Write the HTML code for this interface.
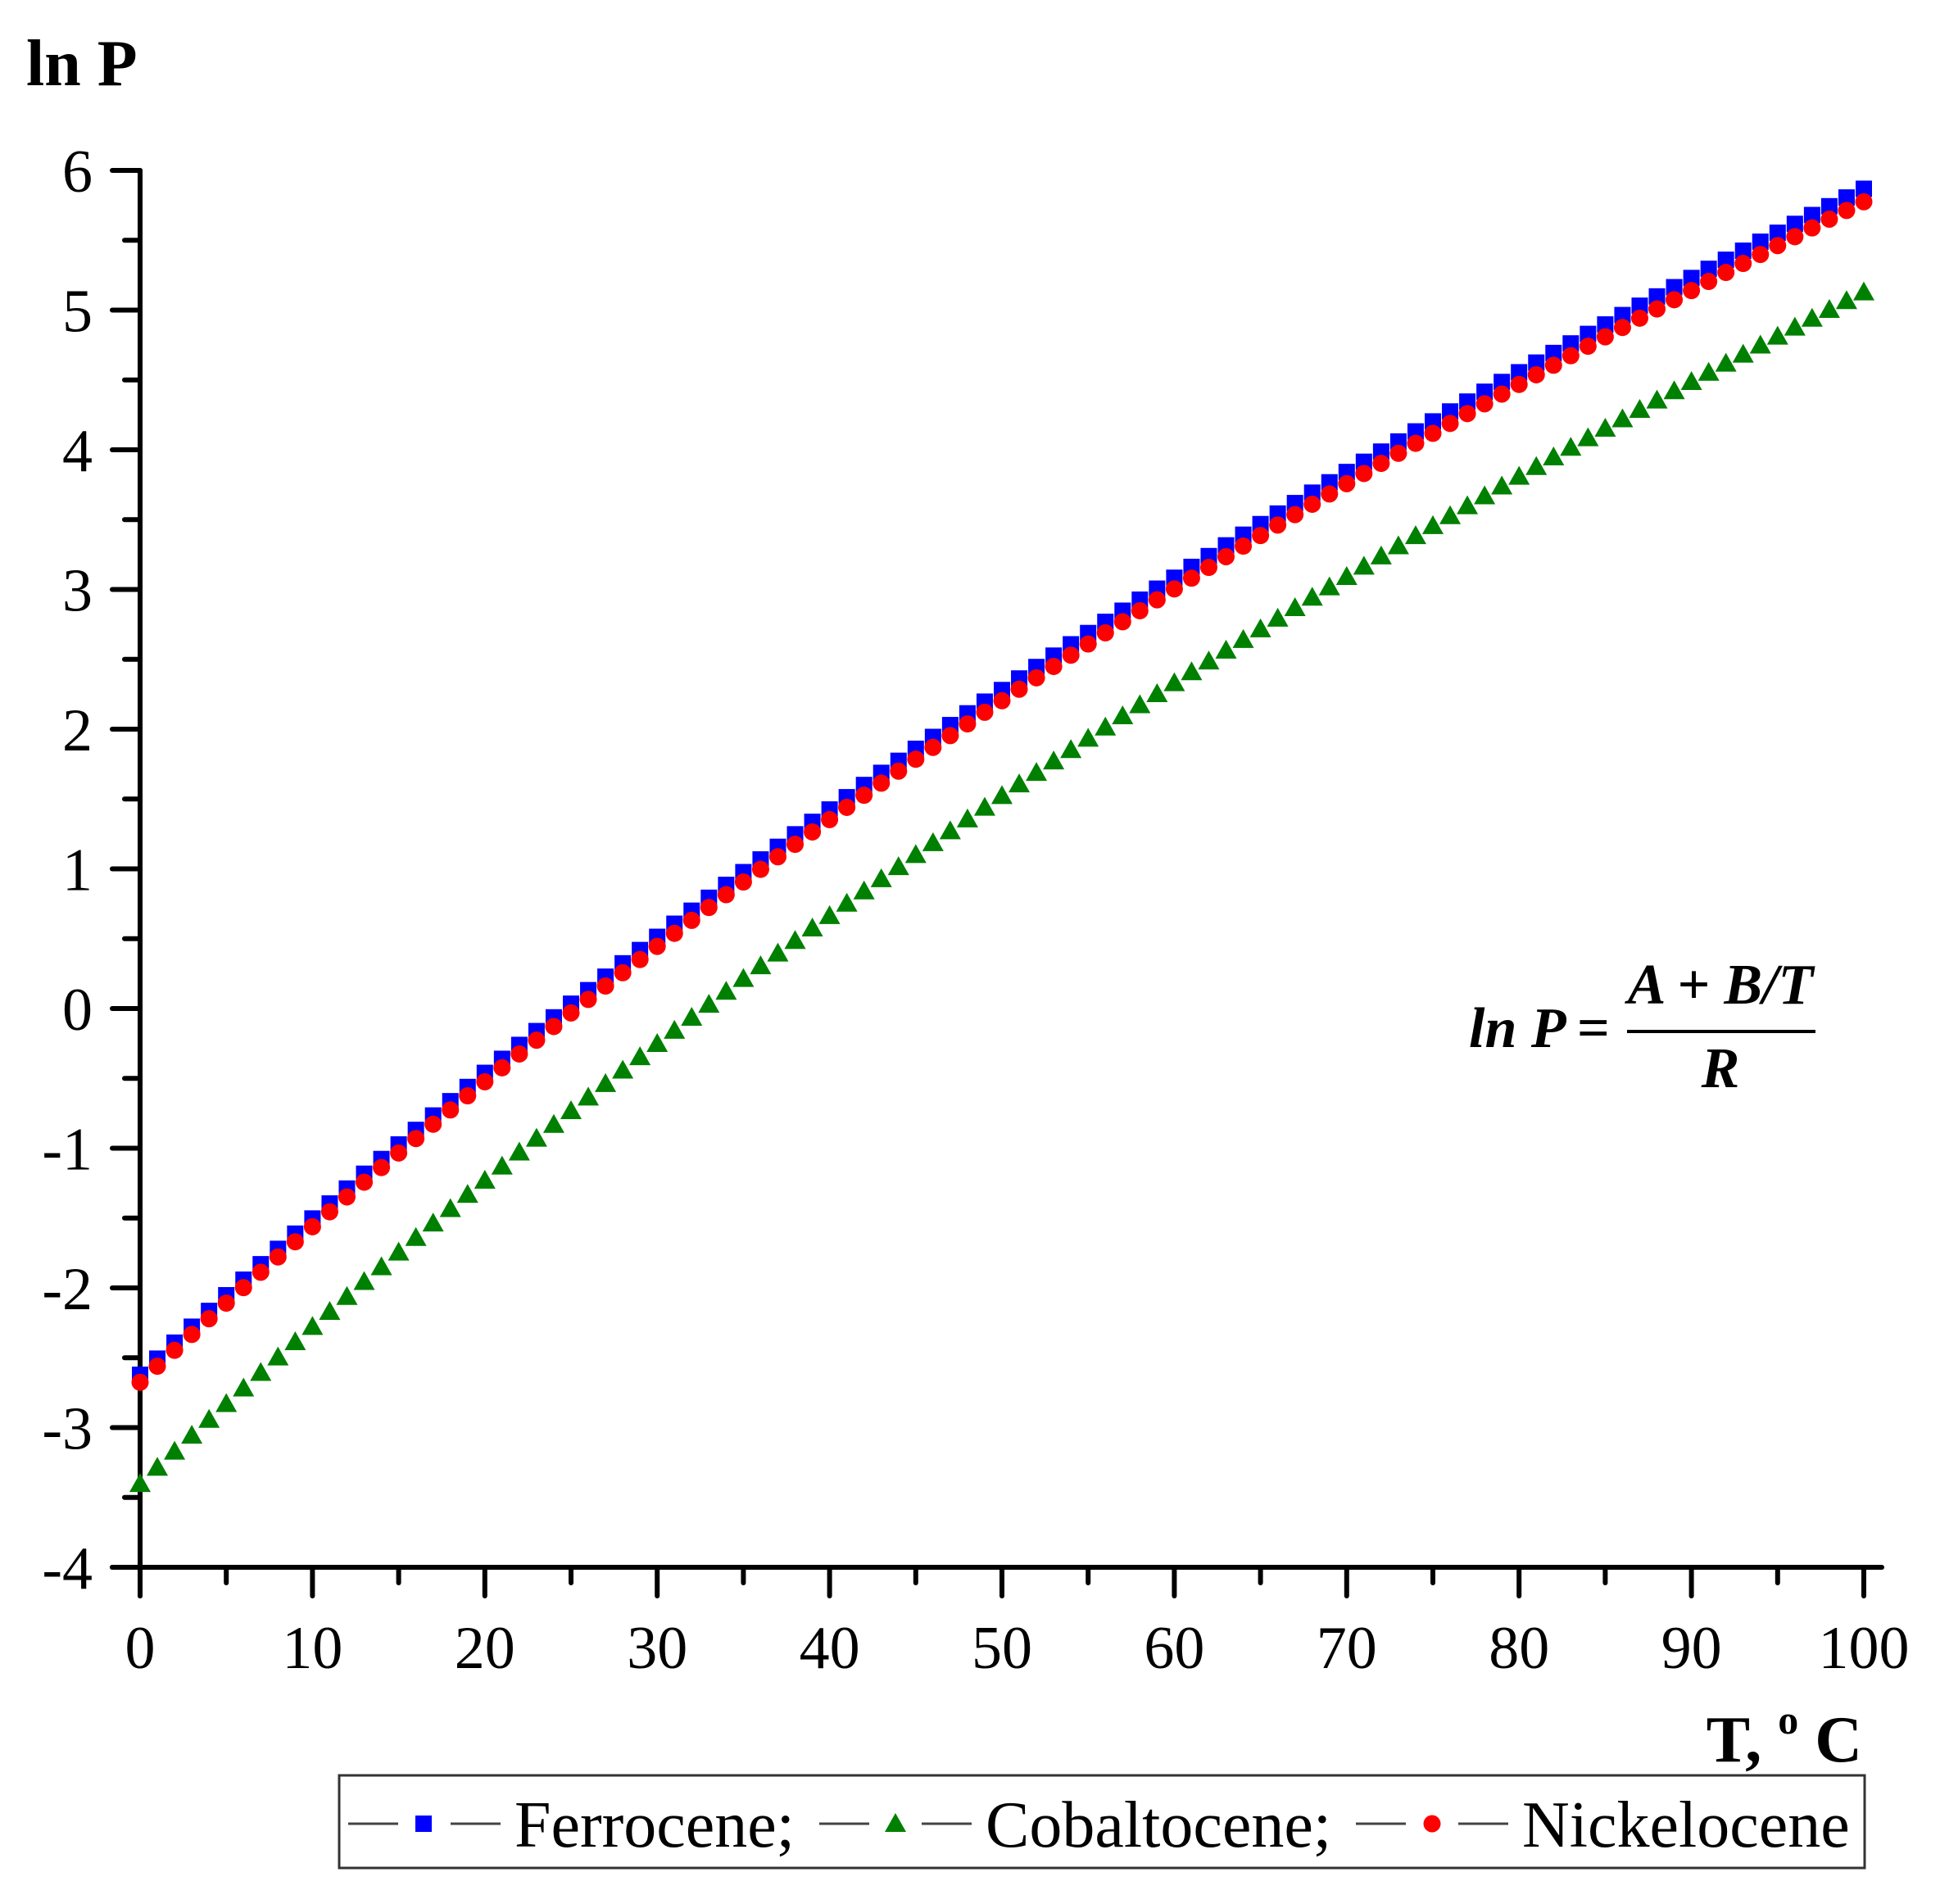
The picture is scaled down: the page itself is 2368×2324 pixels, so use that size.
<!DOCTYPE html>
<html><head><meta charset="utf-8"><style>
html,body{margin:0;padding:0;background:#fff}
svg{display:block}
</style></head><body>
<svg id="s" width="2368" height="2324" viewBox="0 0 2368 2324" xmlns="http://www.w3.org/2000/svg">
<g font-family="Liberation Serif, serif" fill="#000">
<text x="32" y="104" font-size="80" font-weight="bold">ln P</text>
<text x="2273" y="2150" font-size="80" font-weight="bold" text-anchor="end">T, <tspan font-size="50" dy="-34">o</tspan><tspan dy="34"> C</tspan></text>
</g>
<g id="axes" stroke="#000" stroke-width="6" stroke-linecap="round"></g>
<g id="labels" font-family="Liberation Serif, serif" font-size="74" fill="#000"></g>
<g id="data"></g>
<g font-family="Liberation Serif, serif" font-weight="bold" font-style="italic" font-size="70" fill="#000">
<text x="1793" y="1278">ln P</text>
<text x="1945" y="1278" text-anchor="middle" font-style="normal">=</text>
<text x="2100" y="1225" text-anchor="middle">A + B/T</text>
<text x="2100" y="1327" text-anchor="middle">R</text>
</g>
<line x1="1986" y1="1259" x2="2216" y2="1259" stroke="#000" stroke-width="4"/>
<rect x="414" y="2167" width="1862" height="113" fill="none" stroke="#333" stroke-width="3"/>
<g stroke="#444" stroke-width="3">
<line x1="425" y1="2226" x2="486" y2="2226"/><line x1="550" y1="2226" x2="611" y2="2226"/>
<line x1="1000" y1="2226" x2="1061" y2="2226"/><line x1="1125" y1="2226" x2="1186" y2="2226"/>
<line x1="1655" y1="2226" x2="1716" y2="2226"/><line x1="1780" y1="2226" x2="1841" y2="2226"/>
</g>
<rect x="507" y="2216" width="20" height="20" fill="#0000ff"/>
<polygon points="1093,2213 1080,2236 1106,2236" fill="#008000"/>
<circle cx="1748" cy="2226" r="10.5" fill="#ff0000"/>
<g font-family="Liberation Serif, serif" font-size="80" fill="#000">
<text x="628" y="2254">Ferrocene;</text>
<text x="1203" y="2254">Cobaltocene;</text>
<text x="1858" y="2254">Nickelocene</text>
</g>
</svg>
<script>
var NS="http://www.w3.org/2000/svg";
function el(p,t,a,txt){var e=document.createElementNS(NS,t);for(var k in a)e.setAttribute(k,a[k]);if(txt!=null)e.textContent=txt;p.appendChild(e);return e;}
var X0=171,X1=2275,Y0=1913,U=170.5;
function px(t){return X0+(X1-X0)*t/100;}
function py(v){return Y0-(v+4)*U;}
var ax=document.getElementById('axes'),lb=document.getElementById('labels'),d=document.getElementById('data');
el(ax,'line',{x1:X0,y1:py(6),x2:X0,y2:1948});
el(ax,'line',{x1:137,y1:Y0,x2:2297,y2:Y0});
for(var v=-4;v<=6;v++){el(ax,'line',{x1:137,y1:py(v),x2:X0,y2:py(v)});
 el(lb,'text',{x:113,y:py(v)+26,'text-anchor':'end'},String(v));
 if(v<6)el(ax,'line',{x1:152,y1:py(v+0.5),x2:X0,y2:py(v+0.5)});}
for(var t=0;t<=100;t+=5){var big=t%10==0;el(ax,'line',{x1:px(t),y1:Y0,x2:px(t),y2:big?1948:1932});
 if(big)el(lb,'text',{x:px(t),y:2036,'text-anchor':'middle'},String(t));}
function f(a,b,t){return a-b/(t+273.15);}
for(var t=0;t<=100;t++){var y=py(f(29.06,8654,t));el(d,'rect',{x:px(t)-10,y:y-10,width:20,height:20,fill:'#0000ff'});}
for(var t=0;t<=100;t++){var y=py(f(28.86,8614,t));el(d,'circle',{cx:px(t),cy:y,r:10.5,fill:'#ff0000'});}
for(var t=0;t<=100;t++){var x=px(t),y=py(f(28.43,8695,t));el(d,'polygon',{points:(x)+','+(y-13)+' '+(x-13)+','+(y+10)+' '+(x+13)+','+(y+10),fill:'#008000'});}
</script>
</body></html>
